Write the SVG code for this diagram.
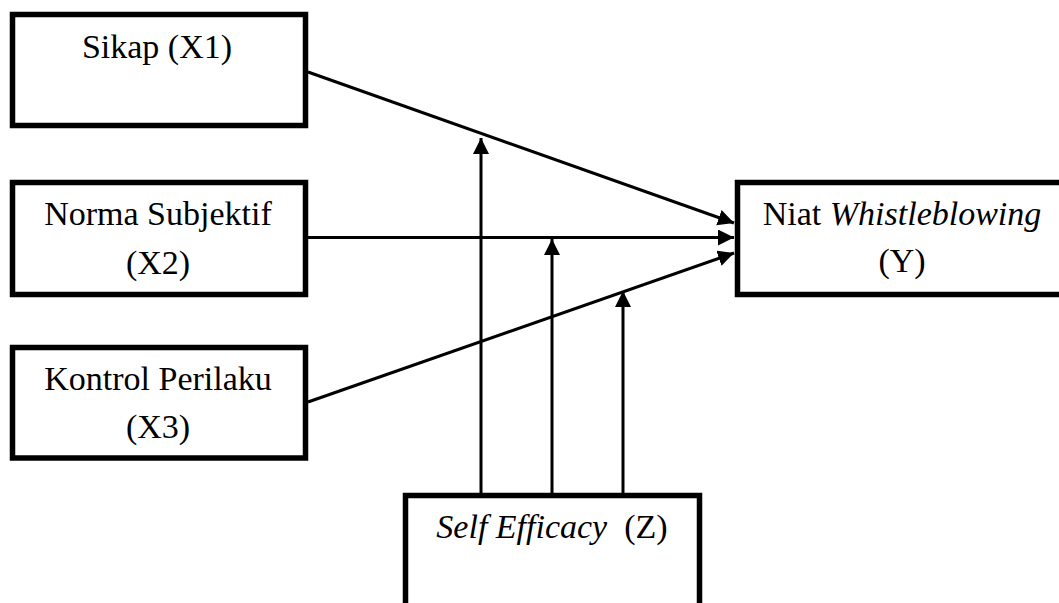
<svg xmlns="http://www.w3.org/2000/svg" width="1059" height="603" viewBox="0 0 1059 603">
<style>
.box{fill:#fff;stroke:#000;stroke-width:5.5}
.t{font-family:"Liberation Serif","Times New Roman",serif;font-size:34px;fill:#000;text-anchor:middle;white-space:pre}
.i{font-style:italic}
.c{stroke:#000;stroke-width:3;fill:none;marker-end:url(#ah)}
</style>
<defs>
<marker id="ah" markerUnits="userSpaceOnUse" markerWidth="17" markerHeight="17" refX="16" refY="8" orient="auto">
<path d="M0,0 L16,8 L0,16 z" fill="#000"/>
</marker>
</defs>
<rect width="1059" height="603" fill="#fff"/>
<g id="connectors">
<line class="c" x1="308" y1="72" x2="734" y2="223"/>
<line class="c" x1="308" y1="237.5" x2="734" y2="237.5"/>
<line class="c" x1="308" y1="402" x2="734" y2="253"/>
<line class="c" x1="481" y1="494" x2="481" y2="138"/>
<line class="c" x1="552" y1="494" x2="552" y2="239"/>
<line class="c" x1="623" y1="494" x2="623" y2="291"/>
</g>
<g id="x1">
<rect class="box" x="12.5" y="14.5" width="293" height="111"/>
<text class="t" x="157" y="58">Sikap (X1)</text>
</g>
<g id="x2">
<rect class="box" x="12.5" y="182.5" width="293" height="112"/>
<text class="t" x="158" y="225">Norma Subjektif</text>
<text class="t" x="158" y="274">(X2)</text>
</g>
<g id="x3">
<rect class="box" x="12.5" y="347.5" width="293" height="110.5"/>
<text class="t" x="158" y="390">Kontrol Perilaku</text>
<text class="t" x="158" y="438">(X3)</text>
</g>
<g id="y">
<rect class="box" x="737.5" y="182.5" width="340" height="112"/>
<text class="t" x="902" y="225">Niat <tspan class="i">Whistleblowing</tspan></text>
<text class="t" x="902" y="272">(Y)</text>
</g>
<g id="z">
<rect class="box" x="405.5" y="495.5" width="294" height="140"/>
<text class="t" x="552" y="538" xml:space="preserve"><tspan class="i">Self Efficacy</tspan>  (Z)</text>
</g>
</svg>
